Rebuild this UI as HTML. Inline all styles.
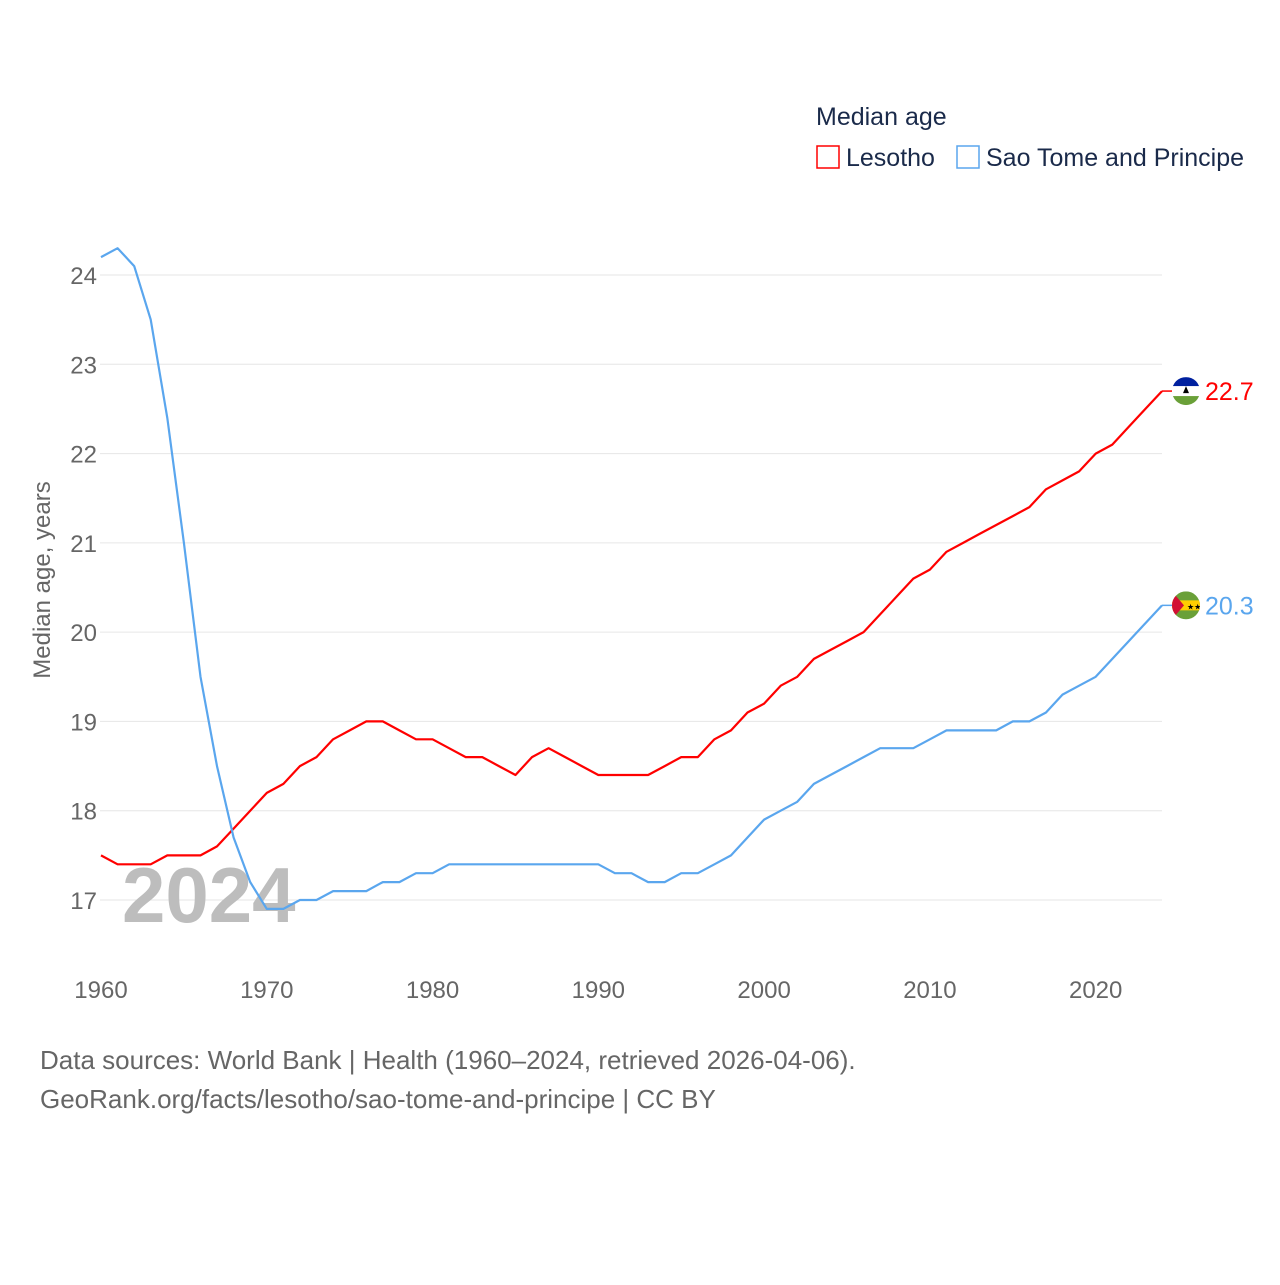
<!DOCTYPE html>
<html><head><meta charset="utf-8"><style>
body{margin:0;background:#fff;font-family:"Liberation Sans",sans-serif;}
svg text{font-family:"Liberation Sans",sans-serif;}
</style></head><body>
<svg id="chart" width="1280" height="1280" viewBox="0 0 1280 1280" xmlns="http://www.w3.org/2000/svg">
<rect width="1280" height="1280" fill="#fff"/>
<g id="grid"></g>
<g id="yticks"></g>
<g id="xticks"></g>
<text x="122" y="922" font-size="78" font-weight="bold" fill="#bdbdbd">2024</text>
<g id="lines"></g>
<text transform="translate(50,580) rotate(-90)" text-anchor="middle" font-size="24" fill="#666">Median age, years</text>
<text x="816" y="125" font-size="25" fill="#1a2a4a">Median age</text>
<g>
<rect x="817" y="146" width="22" height="22" fill="none" stroke="#ff0000" stroke-width="1.5"/>
<text x="846" y="166" font-size="25" fill="#1a2a4a">Lesotho</text></g>
<g>
<rect x="957" y="146" width="22" height="22" fill="none" stroke="#5aa6ee" stroke-width="1.5"/>
<text x="986" y="166" font-size="25" fill="#1a2a4a">Sao Tome and Principe</text></g>
<g id="ends"></g>
<text x="40" y="1069" font-size="26" fill="#666">Data sources: World Bank | Health (1960–2024, retrieved 2026-04-06).</text>
<text x="40" y="1108" font-size="26" fill="#666">GeoRank.org/facts/lesotho/sao-tome-and-principe | CC BY</text>
</svg>
<script>
const years=[];for(let y=1960;y<=2024;y++)years.push(y);
const lesotho=[17.5,17.4,17.4,17.4,17.5,17.5,17.5,17.6,17.8,18.0,18.2,18.3,18.5,18.6,18.8,18.9,19.0,19.0,18.9,18.8,18.8,18.7,18.6,18.6,18.5,18.4,18.6,18.7,18.6,18.5,18.4,18.4,18.4,18.4,18.5,18.6,18.6,18.8,18.9,19.1,19.2,19.4,19.5,19.7,19.8,19.9,20.0,20.2,20.4,20.6,20.7,20.9,21.0,21.1,21.2,21.3,21.4,21.6,21.7,21.8,22.0,22.1,22.3,22.5,22.7];
const saoTome=[24.2,24.3,24.1,23.5,22.4,21.0,19.5,18.5,17.7,17.2,16.9,16.9,17.0,17.0,17.1,17.1,17.1,17.2,17.2,17.3,17.3,17.4,17.4,17.4,17.4,17.4,17.4,17.4,17.4,17.4,17.4,17.3,17.3,17.2,17.2,17.3,17.3,17.4,17.5,17.7,17.9,18.0,18.1,18.3,18.4,18.5,18.6,18.7,18.7,18.7,18.8,18.9,18.9,18.9,18.9,19.0,19.0,19.1,19.3,19.4,19.5,19.7,19.9,20.1,20.3];
const yTicks=[17,18,19,20,21,22,23,24];
const xTicks=[1960,1970,1980,1990,2000,2010,2020];
const NS="http://www.w3.org/2000/svg";
const xs=y=>101+(y-1960)*(1162-101)/64;
const ys=v=>900-(v-17)*(625/7);
function mk(tag,attrs,parent){const e=document.createElementNS(NS,tag);for(const k in attrs)e.setAttribute(k,attrs[k]);document.getElementById(parent).appendChild(e);return e;}
yTicks.forEach(t=>{
 const l=mk('line',{x1:100,x2:1162,y1:ys(t),y2:ys(t),stroke:'#e6e6e6','stroke-width':1},'grid');
 
 
 const tx=mk('text',{x:97,y:ys(t)+9,'text-anchor':'end','font-size':24,fill:'#666'},'yticks');
 tx.textContent=t;
 
 
});
xTicks.forEach(t=>{
 const tx=mk('text',{x:xs(t),y:998,'text-anchor':'middle','font-size':24,fill:'#666'},'xticks');
 tx.textContent=t;
 
 
});
function line(vals,color,name){
 const d=vals.map((v,i)=>(i?'L':'M')+xs(years[i]).toFixed(1)+','+ys(v).toFixed(1)).join('');
 const p=mk('path',{d:d,fill:'none',stroke:color,'stroke-width':2.2,'stroke-linejoin':'round'},'lines');
 
 
 const last=vals[vals.length-1],ly=ys(last),lx=xs(years[years.length-1]);
 const c=mk('line',{x1:lx,x2:lx+10,y1:ly,y2:ly,stroke:color,'stroke-width':1.5},'ends');
 
 
 const t=mk('text',{x:1205,y:ly+9,'font-size':25,fill:color},'ends');
 t.textContent=last.toFixed(1);
 
 
 return ly;
}
const lyL=line(lesotho,'#ff0000','lesotho-line');
const lyS=line(saoTome,'#5aa6ee','sao-tome-line');
const fL=mk('g',{},'ends');


fL.innerHTML=`<clipPath id="cl"><circle cx="1186" cy="${lyL}" r="14"/></clipPath><g clip-path="url(#cl)"><rect x="1172" y="${lyL-14}" width="28" height="28" fill="#fff"/><rect x="1172" y="${lyL-14}" width="28" height="9" fill="#00209f"/><rect x="1172" y="${lyL+5}" width="28" height="9" fill="#6aa038"/><path d="M1183 ${lyL+2} h6 l-3 -7z" fill="#000"/></g>`;
const fS=mk('g',{},'ends');


fS.innerHTML=`<clipPath id="cs"><circle cx="1186" cy="${lyS}" r="14"/></clipPath><g clip-path="url(#cs)"><rect x="1172" y="${lyS-14}" width="28" height="28" fill="#6aa038"/><rect x="1172" y="${lyS-5}" width="28" height="10" fill="#ffce00"/><path d="M1172 ${lyS-14} L1184 ${lyS} L1172 ${lyS+14}z" fill="#d21034"/><text x="1187" y="${lyS+4}" font-size="8" fill="#000">★★</text></g>`;
</script>
</body></html>
